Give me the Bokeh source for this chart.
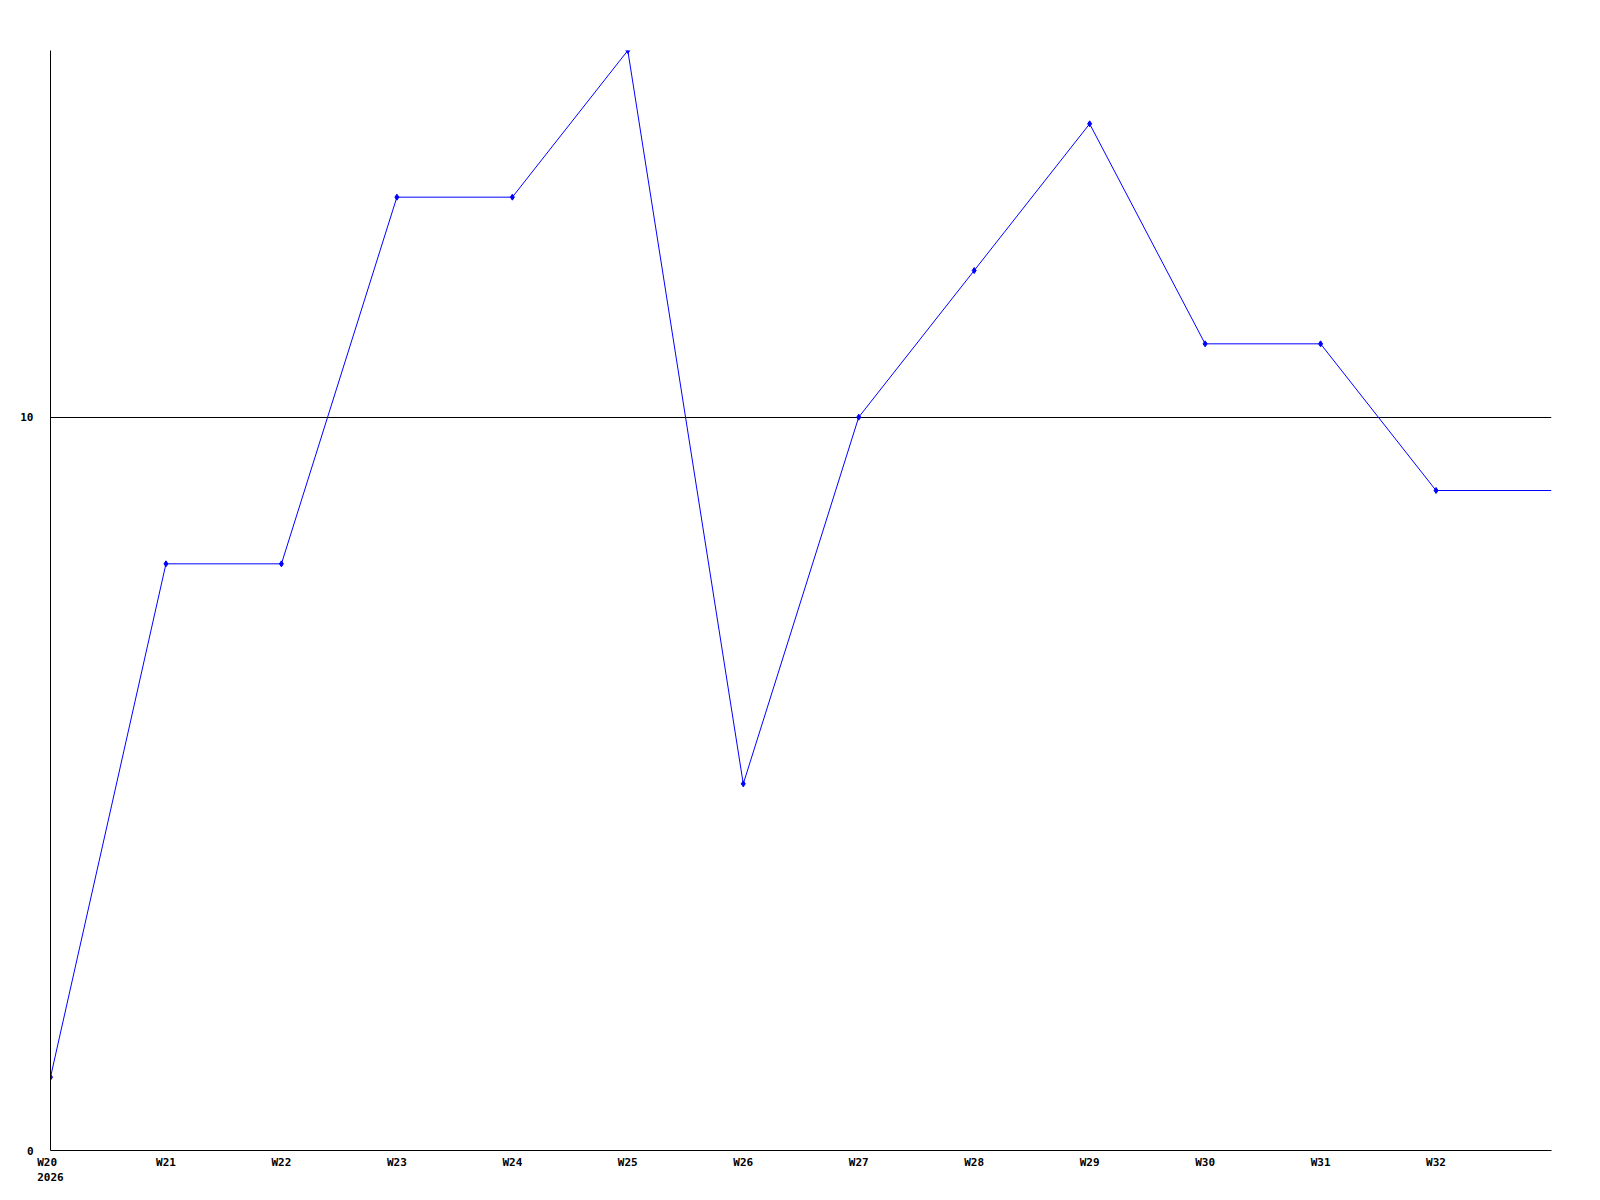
from bokeh.plotting import figure
from bokeh.models import Range1d, FixedTicker
from bokeh.embed import file_html
from bokeh.resources import INLINE

weeks = [20, 21, 22, 23, 24, 25, 26, 27, 28, 29, 30, 31, 32]
week_labels = ["W20 \n2026", "W21", "W22", "W23", "W24", "W25", "W26",
               "W27", "W28", "W29", "W30", "W31", "W32"]
values = [1, 8, 8, 13, 13, 15, 5, 10, 12, 14, 11, 11, 9]
y_ticks = [0, 10]
x_end = 33

p = figure(width=1580, height=1190, output_backend="svg", toolbar_location=None,
           x_range=Range1d(20, x_end), y_range=Range1d(0, 15),
           min_border_left=50, min_border_right=29, min_border_top=50, min_border_bottom=40)
p.outline_line_color = None
p.background_fill_color = "white"

# line extended to the right edge at last value
lx = weeks + [x_end]
ly = values + [values[-1]]
p.line(lx, ly, line_color="#0000ff", line_width=1)
p.scatter(weeks, values, marker="diamond", size=6, color="#0000ff")

font = "DejaVu Sans Mono"
p.xaxis.ticker = FixedTicker(ticks=weeks)
p.xaxis.major_label_overrides = {w: l for w, l in zip(weeks, week_labels)}
p.yaxis.ticker = FixedTicker(ticks=y_ticks)
for ax in (p.xaxis, p.yaxis):
    ax.major_tick_out = 0
    ax.major_tick_in = 0
    ax.minor_tick_out = 0
    ax.minor_tick_in = 0
    ax.axis_line_color = "black"
    ax.axis_line_width = 1
    ax.major_label_text_font = font
    ax.major_label_text_font_style = "bold"
    ax.major_label_text_font_size = "11px"
    ax.major_label_text_color = "black"
p.xaxis.major_label_standoff = 5
p.yaxis.major_label_standoff = 17

p.xgrid.grid_line_color = None
p.ygrid.ticker = FixedTicker(ticks=[10])
p.ygrid.grid_line_color = "black"
p.ygrid.grid_line_width = 1

open("out.html", "w").write(file_html(p, INLINE))
